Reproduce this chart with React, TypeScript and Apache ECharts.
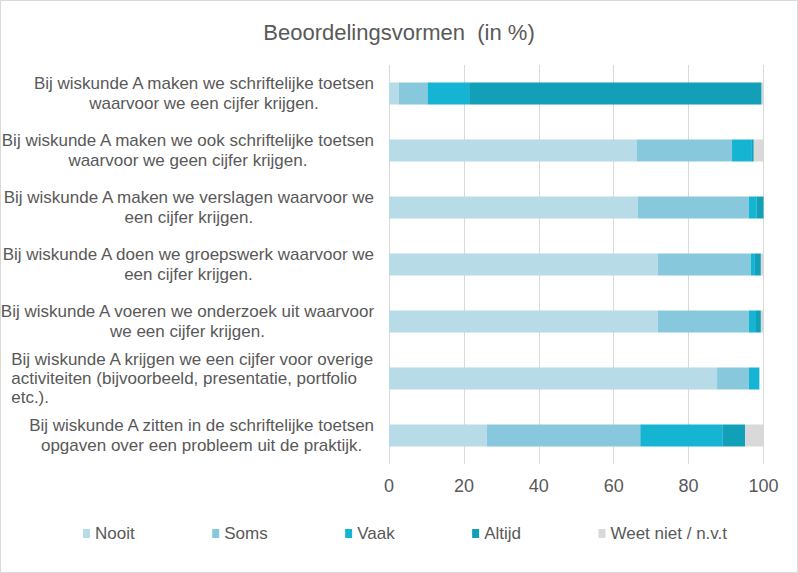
import React, { useEffect, useRef } from "react";
import * as echarts from "echarts";

const categories = [
  "Bij wiskunde A maken we schriftelijke toetsen\nwaarvoor we een cijfer krijgen.",
  "Bij wiskunde A maken we ook schriftelijke toetsen\nwaarvoor we geen cijfer krijgen.",
  "Bij wiskunde A maken we verslagen waarvoor we\neen cijfer krijgen.",
  "Bij wiskunde A doen we groepswerk waarvoor we\neen cijfer krijgen.",
  "Bij wiskunde A voeren we onderzoek uit waarvoor\nwe een cijfer krijgen.",
  "Bij wiskunde A krijgen we een cijfer voor overige\nactiviteiten (bijvoorbeeld, presentatie, portfolio\netc.).",
  "Bij wiskunde A zitten in de schriftelijke toetsen\nopgaven over een probleem uit de praktijk.",
];

const seriesNames = ["Nooit", "Soms", "Vaak", "Altijd", "Weet niet / n.v.t"];
const nooit = [2.6, 66.2, 66.4, 71.8, 71.8, 87.6, 26.1];
const soms = [7.7, 25.4, 29.7, 24.8, 24.3, 8.5, 41.0];
const vaak = [11.1, 5.3, 2.1, 1.1, 1.9, 2.8, 21.9];
const altijd = [78.1, 0.5, 1.8, 1.6, 1.3, 0, 6.1];
const weetNiet = [0.5, 2.6, 0, 0.7, 0.7, 0, 4.9];
const xTicks = [0, 20, 40, 60, 80, 100];

const colors = ["#b7dce8", "#87c8dc", "#14b4d2", "#129fb8", "#d9d9d9"];
const FONT = "'Liberation Sans', Arial, sans-serif";
const TEXT = "#595959";

export default function App() {
  const ref = useRef<HTMLDivElement>(null);
  useEffect(() => {
    document.body.style.margin = "0";
    const chart = echarts.init(ref.current!, null, { renderer: "svg" });
    const values = [nooit, soms, vaak, altijd, weetNiet];
    chart.setOption({
      animation: false,
      textStyle: { fontFamily: FONT },
      graphic: [
        {
          type: "rect",
          shape: { x: 0.5, y: 0.5, width: 797, height: 572 },
          style: { fill: "none", stroke: "#d9d9d9", lineWidth: 1 },
          silent: true,
        },
      ],
      title: {
        text: "Beoordelingsvormen  (in %)",
        left: "center",
        top: 16,
        textStyle: { fontFamily: FONT, fontSize: 22, fontWeight: "normal", color: TEXT },
      },
      legend: {
        left: 78,
        top: 520,
        itemWidth: 7,
        itemHeight: 9,
        itemGap: 77.5,
        icon: "rect",
        data: seriesNames,
        textStyle: { fontFamily: FONT, fontSize: 17, color: TEXT, padding: [0, 0, 0, 0] },
      },
      grid: {
        left: 389,
        right: 34.5,
        top: 65,
        bottom: 109,
        containLabel: false,
        outerBoundsMode: "none",
      },
      xAxis: {
        type: "value",
        min: xTicks[0],
        max: xTicks[xTicks.length - 1],
        interval: 20,
        axisLine: { show: false },
        axisTick: { show: false },
        splitLine: { show: true, lineStyle: { color: "#d9d9d9", width: 1 } },
        axisLabel: { fontFamily: FONT, fontSize: 18, color: TEXT, margin: 13 },
      },
      yAxis: {
        type: "category",
        inverse: true,
        data: categories,
        axisLine: { show: false },
        axisTick: { show: false },
        axisLabel: {
          margin: 14,
          align: "right",
          formatter: (v: string) => {
            const style = v.indexOf("activiteiten") >= 0 ? "l" : "c";
            return v
              .split("\n")
              .map((line) => `{${style}|${line}}`)
              .join("\n");
          },
          rich: {
            c: { align: "center", fontFamily: FONT, fontSize: 17, color: TEXT, lineHeight: 20 },
            l: { align: "left", fontFamily: FONT, fontSize: 17, color: TEXT, lineHeight: 19 },
          },
        },
      },
      series: seriesNames.map((name, i) => ({
        name,
        type: "bar",
        stack: "total",
        barWidth: 22,
        itemStyle: { color: colors[i] },
        data: values[i],
      })),
    });
    return () => chart.dispose();
  }, []);
  return <div ref={ref} style={{ width: 798, height: 573, background: "#fff" }} />;
}
